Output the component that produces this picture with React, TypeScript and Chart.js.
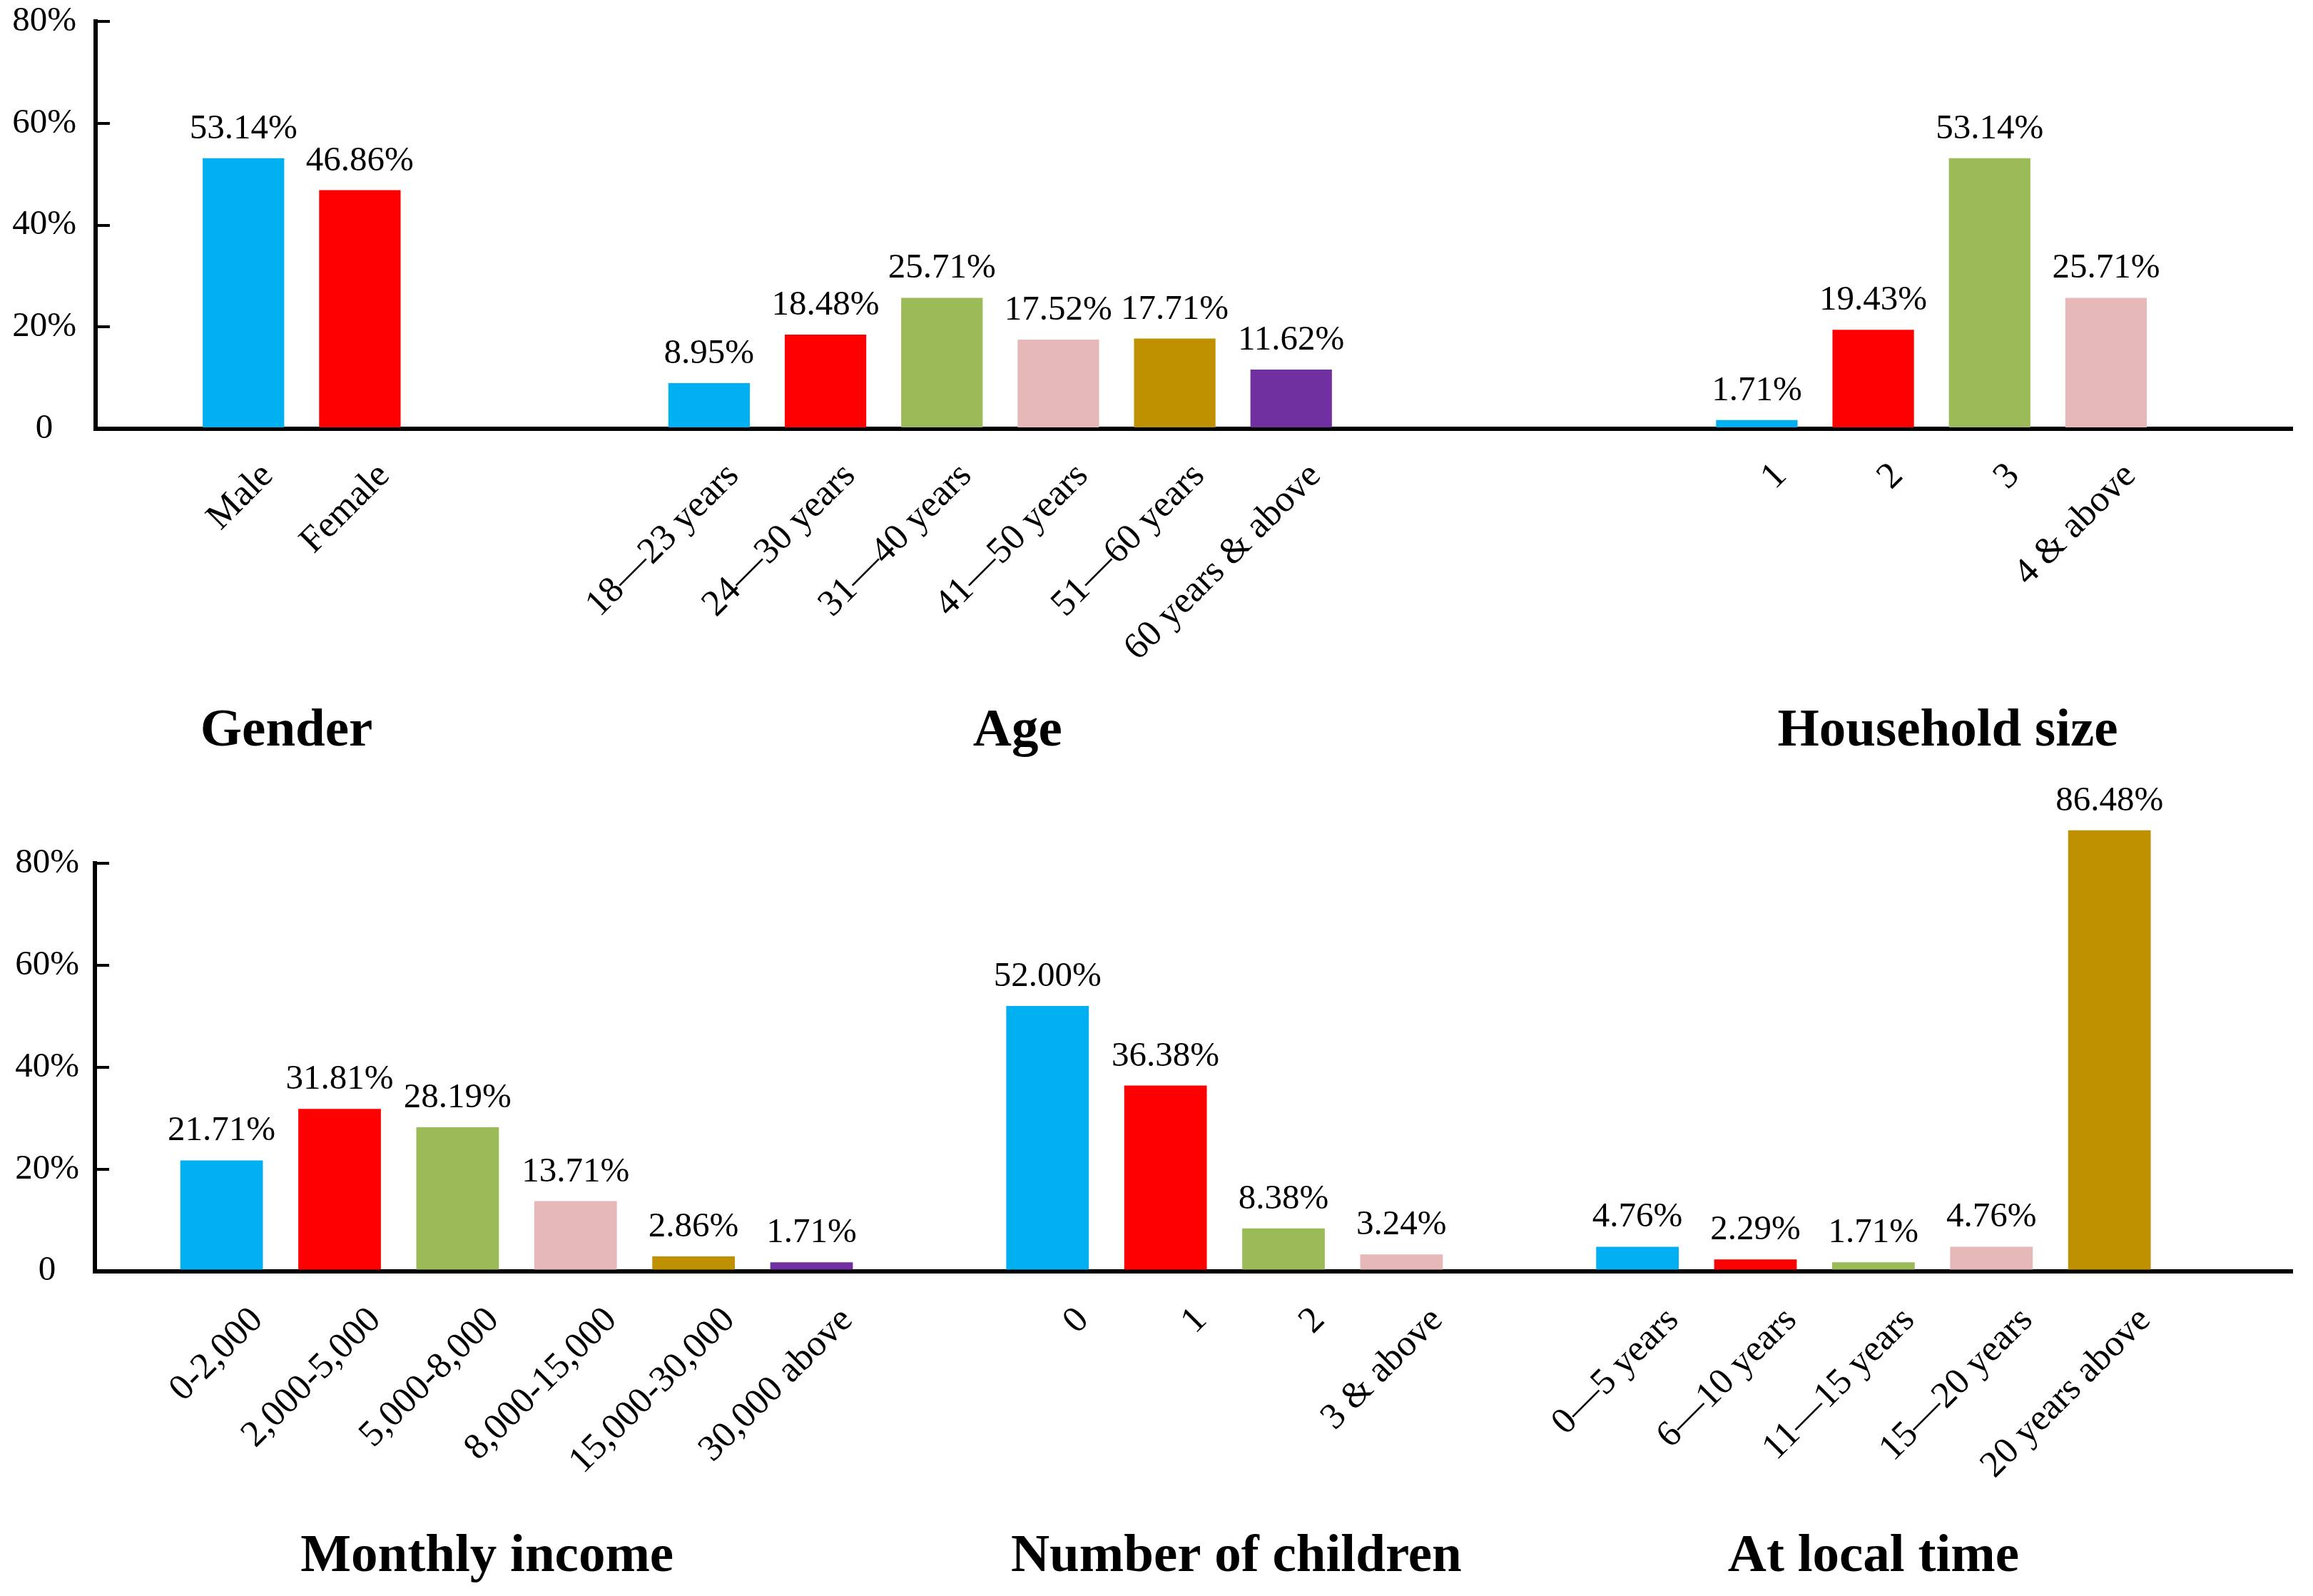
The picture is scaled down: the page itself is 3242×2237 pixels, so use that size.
import React, { useEffect, useRef } from 'react';
import { Chart, registerables } from 'chart.js';

Chart.register(...registerables);

const FONT = '"Liberation Serif", "Times New Roman", Times, serif';

// ---- data ----
const genderLabels = ['Male', 'Female'];
const genderValues = [53.14, 46.86];
const ageLabels = ['18—23 years', '24—30 years', '31—40 years', '41—50 years', '51—60 years', '60 years & above'];
const ageValues = [8.95, 18.48, 25.71, 17.52, 17.71, 11.62];
const householdLabels = ['1', '2', '3', '4 & above'];
const householdValues = [1.71, 19.43, 53.14, 25.71];

const incomeLabels = ['0-2,000', '2,000-5,000', '5,000-8,000', '8,000-15,000', '15,000-30,000', '30,000 above'];
const incomeValues = [21.71, 31.81, 28.19, 13.71, 2.86, 1.71];
const childrenLabels = ['0', '1', '2', '3 & above'];
const childrenValues = [52.0, 36.38, 8.38, 3.24];
const localLabels = ['0—5 years', '6—10 years', '11—15 years', '15—20 years', '20 years above'];
const localValues = [4.76, 2.29, 1.71, 4.76, 86.48];

const topTitles = ['Gender', 'Age', 'Household size'];
const bottomTitles = ['Monthly income', 'Number of children', 'At local time'];
const yTickValues = [0, 20, 40, 60, 80];
const palette = ['#00B0F0', '#FF0000', '#9BBB59', '#E6B9B8', '#BF9000', '#7030A0'];

type Group = { labels: string[]; values: number[] };

function buildRow(groups: Group[], gaps: number[], titleShift: number[]) {
  const points: { x: number; y: number }[] = [];
  const colors: string[] = [];
  const tickLabels: string[] = [];
  const positions: number[] = [];
  const centers: number[] = [];
  let pos = 0;
  groups.forEach((g, gi) => {
    const start = pos;
    g.values.forEach((v, i) => {
      points.push({ x: pos + i, y: v });
      colors.push(palette[i % palette.length]);
      tickLabels.push(g.labels[i]);
      positions.push(pos + i);
    });
    centers.push(start + (g.values.length - 1) / 2 + (titleShift[gi] ?? 0));
    pos += g.values.length + (gaps[gi] ?? 0);
  });
  return { points, colors, tickLabels, positions, centers };
}

const valueLabelPlugin = {
  id: 'valueLabels',
  afterDatasetsDraw(chart: any) {
    const ctx = chart.ctx;
    const meta = chart.getDatasetMeta(0);
    const data = chart.data.datasets[0].data;
    ctx.save();
    ctx.font = `49px ${FONT}`;
    ctx.fillStyle = '#000';
    ctx.textAlign = 'center';
    ctx.textBaseline = 'alphabetic';
    meta.data.forEach((bar: any, i: number) => {
      ctx.fillText(data[i].y.toFixed(2) + '%', bar.x, bar.y - 28);
    });
    ctx.restore();
  },
};

type RowOpts = {
  groups: Group[];
  gaps: number[];
  titles: string[];
  titleShift: number[];
  xMin: number;
  xMax: number;
  padTop: number;
  padRight: number;
  yWidth: number;
  yPad: number;
  xLabelPad: number;
  xLabelShift: number;
  xHeight: number;
  titlePad: number;
  titleHeight: number;
};

function makeConfig(o: RowOpts): any {
  const row = buildRow(o.groups, o.gaps, o.titleShift);
  return {
    type: 'bar',
    data: {
      datasets: [
        {
          data: row.points,
          backgroundColor: row.colors,
          borderWidth: 0,
          barPercentage: 0.7,
          categoryPercentage: 1,
          clip: false,
          xAxisID: 'x',
          yAxisID: 'y',
        },
      ],
    },
    plugins: [valueLabelPlugin],
    options: {
      animation: false,
      responsive: false,
      maintainAspectRatio: false,
      layout: { padding: { top: o.padTop, left: 0, right: o.padRight, bottom: 0 } },
      plugins: { legend: { display: false }, tooltip: { enabled: false } },
      scales: {
        x: {
          type: 'linear',
          position: 'bottom',
          weight: 0,
          offset: false,
          min: o.xMin,
          max: o.xMax,
          bounds: 'data',
          afterBuildTicks: (s: any) => {
            s.ticks = row.positions.map((v) => ({ value: v }));
          },
          afterFit: (s: any) => {
            s.height = o.xHeight;
            s.paddingLeft = 0;
            s.paddingRight = 0;
          },
          border: { display: true, color: '#000', width: 6 },
          grid: { display: false, drawTicks: false, offset: false },
          ticks: {
            autoSkip: false,
            minRotation: 45,
            maxRotation: 45,
            padding: o.xLabelPad,
            labelOffset: o.xLabelShift,
            color: '#000',
            font: { family: FONT, size: 52 },
            callback: (_v: any, i: number) => row.tickLabels[i],
          },
        },
        x2: {
          type: 'linear',
          position: 'bottom',
          weight: 1,
          offset: false,
          min: o.xMin,
          max: o.xMax,
          bounds: 'data',
          afterBuildTicks: (s: any) => {
            s.ticks = row.centers.map((v) => ({ value: v }));
          },
          afterFit: (s: any) => {
            s.height = o.titleHeight;
            s.paddingLeft = 0;
            s.paddingRight = 0;
          },
          border: { display: false },
          grid: { display: false, drawTicks: false, offset: false },
          ticks: {
            autoSkip: false,
            minRotation: 0,
            maxRotation: 0,
            padding: o.titlePad,
            color: '#000',
            font: { family: FONT, size: 75, weight: 'bold' },
            callback: (_v: any, i: number) => o.titles[i],
          },
        },
        y: {
          type: 'linear',
          position: 'left',
          min: 0,
          max: 80,
          afterBuildTicks: (s: any) => {
            s.ticks = yTickValues.map((v) => ({ value: v }));
          },
          afterFit: (s: any) => {
            s.width = o.yWidth;
            s.paddingTop = 0;
            s.paddingBottom = 0;
          },
          border: { display: true, color: '#000', width: 6 },
          grid: {
            display: true,
            drawOnChartArea: false,
            drawTicks: true,
            tickLength: -20,
            color: '#000',
            lineWidth: 4,
          },
          ticks: {
            color: '#000',
            font: { family: FONT, size: 49 },
            padding: o.yPad,
            crossAlign: 'center',
            callback: (v: any) => (v === 0 ? '0' : v + '%'),
          },
        },
      },
    },
  };
}

const topRow: RowOpts = {
  groups: [
    { labels: genderLabels, values: genderValues },
    { labels: ageLabels, values: ageValues },
    { labels: householdLabels, values: householdValues },
  ],
  gaps: [2, 3],
  titles: topTitles,
  titleShift: [-0.13, 0.15, 0.14],
  xMin: -1.27,
  xMax: 17.6,
  padTop: 30,
  padRight: 29,
  yWidth: 134,
  yPad: 47,
  xLabelPad: 36,
  xLabelShift: 34,
  xHeight: 330,
  titlePad: 50,
  titleHeight: 159,
};

const bottomRow: RowOpts = {
  groups: [
    { labels: incomeLabels, values: incomeValues },
    { labels: childrenLabels, values: childrenValues },
    { labels: localLabels, values: localValues },
  ],
  gaps: [1, 1],
  titles: bottomTitles,
  titleShift: [-0.25, 0.1, 0],
  xMin: -1.074,
  xMax: 17.55,
  padTop: 120,
  padRight: 29,
  yWidth: 133,
  yPad: 42,
  xLabelPad: 39,
  xLabelShift: 50,
  xHeight: 330,
  titlePad: 26,
  titleHeight: 125.5,
};

function RowChart({ opts, width, height, top }: { opts: RowOpts; width: number; height: number; top: number }) {
  const ref = useRef<HTMLCanvasElement | null>(null);
  useEffect(() => {
    if (!ref.current) return;
    const chart = new Chart(ref.current, makeConfig(opts));
    return () => chart.destroy();
  }, [opts]);
  return (
    <canvas
      ref={ref}
      width={width}
      height={height}
      style={{ position: 'absolute', left: 0, top, width, height, display: 'block' }}
    />
  );
}

export default function App() {
  return (
    <div style={{ position: 'absolute', left: 0, top: 0, width: 3242, height: 2237, background: '#fff', overflow: 'hidden' }}>
      <RowChart opts={topRow} width={3242} height={1090} top={0} />
      <RowChart opts={bottomRow} width={3242} height={1147} top={1090} />
    </div>
  );
}
